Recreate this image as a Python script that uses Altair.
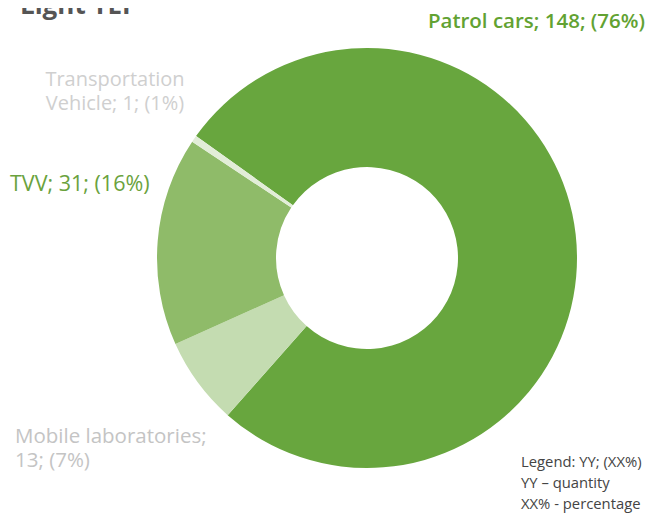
import math
import altair as alt
import pandas as pd

# ---- data ----
categories = ["Patrol cars", "Mobile laboratories", "TVV", "Transportation Vehicle"]
quantities = [148, 13, 31, 1]
percentages = [76, 7, 16, 1]
colors = ["#68a63e", "#c4dcb1", "#8fbb69", "#e2edd8"]
title_text = "Light TEP"
legend_lines = ["Legend: YY; (XX%)", "YY \u2013 quantity", "XX% - percentage"]

df = pd.DataFrame({
    "category": categories,
    "quantity": quantities,
    "pct": percentages,
    "order": list(range(len(categories))),
})

def label(i):
    return f"{categories[i]}; {quantities[i]}; ({percentages[i]}%)"

W, H = 640, 505
CX, CY = 359, 250
start = math.radians(-54.5)

arc = alt.Chart(df).mark_arc(outerRadius=210, innerRadius=91, stroke=None).encode(
    theta=alt.Theta("quantity:Q", stack=True,
                    scale=alt.Scale(range=[start, start + 2 * math.pi])),
    color=alt.Color("category:N", scale=alt.Scale(domain=categories, range=colors), legend=None),
    order=alt.Order("order:Q"),
    x=alt.value(CX),
    y=alt.value(CY),
)

FONT = "Open Sans"
base = alt.Chart(pd.DataFrame({"a": [0]}))

def txt(text, x, y, color, size=17, weight="normal", align="left", baseline="middle", lh=None):
    kw = dict(font=FONT, fontSize=size, fontWeight=weight, color=color, align=align, baseline=baseline)
    if lh:
        kw["lineHeight"] = lh
    return base.mark_text(**kw).encode(x=alt.value(x), y=alt.value(y), text=alt.value(text))

title = txt(title_text, 12, 6, "#555555", size=26, weight="bold", baseline="alphabetic")
patrol = txt(label(0), 637, 14, "#62a232", size=20.5, weight=600, align="right")
tvv = txt(label(2), 2, 177, "#6aa23d", size=21.5)
trans_parts = label(3).split(" ", 1)
transport = txt([trans_parts[0], trans_parts[1]], 107, 72, "#cfcfcf", size=20, align="center", lh=24)
mob_parts = label(1).split(" ", 2)
mobile = txt([mob_parts[0] + " " + mob_parts[1], mob_parts[2]], 7, 429, "#c4c4c4", size=20.5, lh=24)
legend = txt(legend_lines, 513, 455, "#444444", size=14.8, lh=21)

chart = alt.layer(arc, title, patrol, tvv, transport, mobile, legend).properties(
    width=W, height=H, autosize=alt.AutoSizeParams(type="none"), padding=0,
).configure_view(stroke=None)

chart.save("out.html", embed_options={"renderer": "svg", "actions": False})
